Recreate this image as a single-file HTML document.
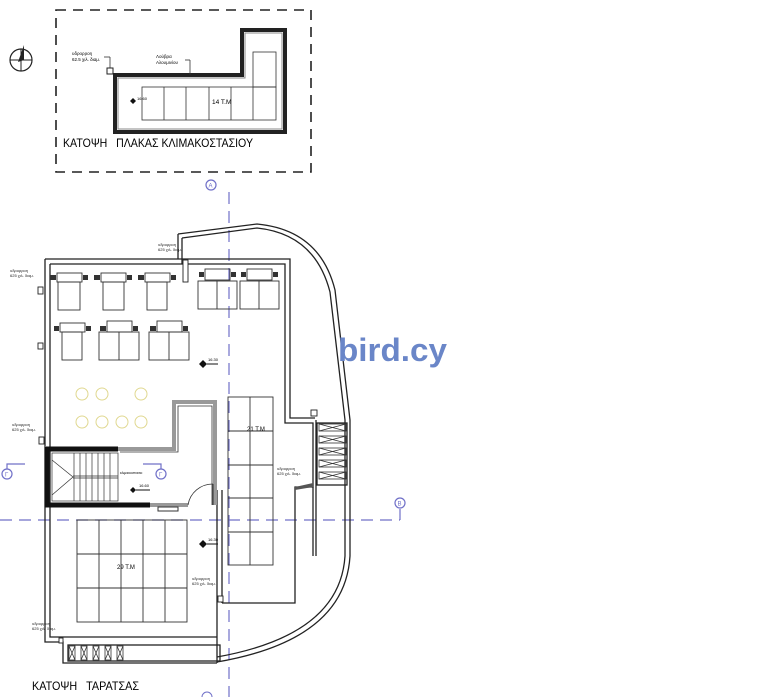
<!DOCTYPE html>
<html><head><meta charset="utf-8"><style>
html,body{margin:0;padding:0;background:#fff;}
svg{display:block;}
text{font-family:"Liberation Sans",sans-serif;}
</style></head><body>
<svg width="780" height="697" viewBox="0 0 780 697" xmlns="http://www.w3.org/2000/svg">
<rect x="56" y="10" width="255" height="162" fill="none" stroke="#222" stroke-width="1.6" stroke-dasharray="10,7"/>
<circle cx="21" cy="60" r="11" fill="none" stroke="#222" stroke-width="1.2"/>
<line x1="10" y1="60" x2="32" y2="60" stroke="#222"/><line x1="21" y1="49" x2="21" y2="71" stroke="#222"/>
<polygon points="24,45 18,62 24,60" fill="#222"/>
<path d="M115,75 H242 V30 H285 V132 H115 Z" fill="none" stroke="#222" stroke-width="4"/>
<path d="M118,78 H245 V33 H282 V129 H118 Z" fill="none" stroke="#888" stroke-width="1"/>
<g fill="none" stroke="#333" stroke-width="0.8">
<rect x="142" y="87" width="134" height="33"/>
<line x1="164" y1="87" x2="164" y2="120"/><line x1="186" y1="87" x2="186" y2="120"/><line x1="209" y1="87" x2="209" y2="120"/><line x1="231" y1="87" x2="231" y2="120"/><line x1="253" y1="87" x2="253" y2="120"/>
<rect x="253" y="52" width="23" height="35"/>
<line x1="104" y1="57" x2="110" y2="57"/><line x1="110" y1="57" x2="110" y2="70"/>
<line x1="185" y1="60" x2="190" y2="60"/><line x1="190" y1="60" x2="190" y2="75"/>
</g>
<rect x="107" y="68" width="6" height="6" fill="#fff" stroke="#222"/>
<text x="72" y="55" font-size="4.5">υδρορροη</text><text x="72" y="61" font-size="4.5">62.5 χιλ. διαμ.</text>
<text x="156" y="58" font-size="4.5">Λούβρα</text><text x="156" y="64" font-size="4.5">Αλουμινίου</text>
<polygon points="130,101 133,98 136,101 133,104" fill="#111"/><text x="137" y="100" font-size="4">16.60</text>
<text x="212" y="104" font-size="6.5">14 T.M</text>
<text x="63" y="147" font-size="12" textLength="190" lengthAdjust="spacingAndGlyphs">ΚΑΤΟΨΗ &#160;&#160;ΠΛΑΚΑΣ ΚΛΙΜΑΚΟΣΤΑΣΙΟΥ</text>

<g stroke="#7070c8" stroke-width="1.2" fill="none">
<line x1="229" y1="192" x2="229" y2="697" stroke-dasharray="12,7"/>
<line x1="0" y1="520" x2="400" y2="520" stroke-dasharray="12,7"/>
<line x1="400" y1="520" x2="400" y2="509"/>
<circle cx="211" cy="185" r="5"/><circle cx="400" cy="503" r="5"/>
<circle cx="7" cy="474" r="5"/><circle cx="161" cy="474" r="5"/>
<path d="M7,469 V464 H25"/><path d="M161,469 V464 H143"/>
</g>
<g font-size="6" fill="#7070c8"><text x="208.5" y="187.5">A</text><text x="397.5" y="505.5">B</text><text x="5" y="476.5">Γ</text><text x="159" y="476.5">Γ</text></g>

<g fill="none" stroke="#222" stroke-width="1.3">
<path d="M45,259 H290 V418 H315"/>
<path d="M50,264 H285 V423 H313 V487 H295 V603 H222"/>
<path d="M45,259 V642 H63 V663 H217"/>
<path d="M50,264 V637 H217"/>
<path d="M178,234 L257,224 Q320,230 335,290 L350,420 V556 Q345,640 217,662"/>
<path d="M182,238 L257,228 Q315,234 330,292 L345,420 V556 Q340,635 217,657"/>
<path d="M182,238 V264"/><path d="M178,234 V259"/>
<path d="M217,490 V663"/><path d="M222,490 V603"/>
<path d="M316,420 V556"/><path d="M313,487 V556"/>
<rect x="317" y="423" width="30" height="62"/>
<rect x="68" y="645" width="152" height="16"/>
</g>
<g fill="none" stroke="#333" stroke-width="0.8">
<rect x="319" y="424" width="27" height="7"/><rect x="319" y="436" width="27" height="7"/><rect x="319" y="448" width="27" height="7"/><rect x="319" y="460" width="27" height="7"/><rect x="319" y="472" width="27" height="7"/>
<path d="M319,424 L346,431 M319,431 L346,424 M319,436 L346,443 M319,443 L346,436 M319,448 L346,455 M319,455 L346,448 M319,460 L346,467 M319,467 L346,460 M319,472 L346,479 M319,479 L346,472"/>
<rect x="69" y="646" width="6" height="14"/><rect x="81" y="646" width="6" height="14"/><rect x="93" y="646" width="6" height="14"/><rect x="105" y="646" width="6" height="14"/><rect x="117" y="646" width="6" height="14"/>
<path d="M69,646 L75,660 M75,646 L69,660 M81,646 L87,660 M87,646 L81,660 M93,646 L99,660 M99,646 L93,660 M105,646 L111,660 M111,646 L105,660 M117,646 L123,660 M123,646 L117,660"/>
</g>

<path d="M118,449 H174 V402 H215 V505" fill="none" stroke="#999" stroke-width="4"/>
<path d="M120,452 H178 V406 H212 V505" fill="none" stroke="#333" stroke-width="0.8"/>
<path d="M46,449 H118" stroke="#111" stroke-width="5"/>
<path d="M47,447 V505 H150" fill="none" stroke="#111" stroke-width="5"/>
<path d="M150,505 H188" stroke="#999" stroke-width="4"/>
<path d="M213,505 V484" stroke="#333"/><path d="M188,505 A25,25 0 0 1 213,484" fill="none" stroke="#333" stroke-width="0.8"/>
<g stroke="#333" stroke-width="0.7" fill="none">
<rect x="52" y="453" width="66" height="48"/>
<line x1="73" y1="476" x2="118" y2="476"/><line x1="73" y1="478" x2="118" y2="478"/>
<line x1="74" y1="453" x2="74" y2="501"/><line x1="80" y1="453" x2="80" y2="501"/><line x1="86" y1="453" x2="86" y2="501"/><line x1="92" y1="453" x2="92" y2="501"/><line x1="98" y1="453" x2="98" y2="501"/><line x1="104" y1="453" x2="104" y2="501"/><line x1="110" y1="453" x2="110" y2="501"/>
<path d="M52,460 L73,477 L52,495"/>
</g>
<text x="120" y="474" font-size="3.5">κλιμακοστασιο</text>
<polygon points="130,490 133,487 136,490 133,493" fill="#111"/><line x1="136" y1="490" x2="150" y2="490" stroke="#111"/><text x="139" y="487" font-size="4">16.60</text>
<rect x="158" y="507" width="20" height="4" fill="none" stroke="#333"/>

<g fill="none" stroke="#333" stroke-width="0.9">
<rect x="58" y="282" width="22" height="28"/><rect x="103" y="282" width="21" height="28"/><rect x="147" y="282" width="20" height="28"/>
<rect x="57" y="273" width="25" height="9"/><rect x="101" y="273" width="25" height="9"/><rect x="145" y="273" width="25" height="9"/>
<rect x="198" y="281" width="39" height="28"/><line x1="217" y1="281" x2="217" y2="309"/>
<rect x="240" y="281" width="39" height="28"/><line x1="259" y1="281" x2="259" y2="309"/>
<rect x="205" y="269" width="25" height="11"/><rect x="247" y="269" width="25" height="11"/>
<rect x="62" y="332" width="20" height="28"/>
<rect x="99" y="332" width="40" height="28"/><line x1="119" y1="332" x2="119" y2="360"/>
<rect x="149" y="332" width="40" height="28"/><line x1="169" y1="332" x2="169" y2="360"/>
<rect x="60" y="323" width="25" height="9"/><rect x="107" y="321" width="25" height="11"/><rect x="157" y="321" width="25" height="11"/>
</g>
<g fill="#333">
<rect x="50" y="275" width="6" height="5"/><rect x="83" y="275" width="5" height="5"/><rect x="94" y="275" width="6" height="5"/><rect x="127" y="275" width="5" height="5"/><rect x="138" y="275" width="6" height="5"/><rect x="171" y="275" width="5" height="5"/>
<rect x="199" y="272" width="5" height="5"/><rect x="231" y="272" width="5" height="5"/><rect x="241" y="272" width="5" height="5"/><rect x="273" y="272" width="5" height="5"/>
<rect x="54" y="326" width="5" height="5"/><rect x="86" y="326" width="5" height="5"/><rect x="100" y="326" width="6" height="5"/><rect x="133" y="326" width="5" height="5"/><rect x="150" y="326" width="6" height="5"/><rect x="183" y="326" width="5" height="5"/>
</g>
<g fill="none" stroke="#e0d890" stroke-width="1">
<circle cx="82" cy="394" r="6"/><circle cx="102" cy="394" r="6"/><circle cx="141" cy="394" r="6"/>
<circle cx="82" cy="422" r="6"/><circle cx="102" cy="422" r="6"/><circle cx="122" cy="422" r="6"/><circle cx="141" cy="422" r="6"/>
</g>
<g fill="none" stroke="#333" stroke-width="0.9">
<rect x="77" y="520" width="110" height="102"/>
<line x1="99" y1="520" x2="99" y2="622"/><line x1="121" y1="520" x2="121" y2="622"/><line x1="143" y1="520" x2="143" y2="622"/><line x1="165" y1="520" x2="165" y2="622"/>
<line x1="77" y1="554" x2="187" y2="554"/><line x1="77" y1="588" x2="187" y2="588"/>
<rect x="228" y="397" width="45" height="168"/><line x1="250" y1="397" x2="250" y2="565"/>
<line x1="228" y1="431" x2="273" y2="431"/><line x1="228" y1="465" x2="273" y2="465"/><line x1="228" y1="498" x2="273" y2="498"/><line x1="228" y1="532" x2="273" y2="532"/>
</g>
<text x="117" y="569" font-size="6">29 T.M</text>
<text x="247" y="431" font-size="6">21 T.M</text>
<g fill="#111"><polygon points="199,364 203,360 207,364 203,368"/><polygon points="199,544 203,540 207,544 203,548"/></g>
<line x1="207" y1="364" x2="218" y2="364" stroke="#111"/><line x1="207" y1="544" x2="218" y2="544" stroke="#111"/>
<text x="208" y="361" font-size="4">16.30</text><text x="208" y="541" font-size="4">16.30</text>
<g fill="#fff" stroke="#222" stroke-width="0.9">
<rect x="38" y="287" width="5" height="7"/><rect x="38" y="343" width="5" height="6"/><rect x="39" y="437" width="5" height="7"/>
<rect x="311" y="410" width="6" height="6"/><rect x="218" y="596" width="5" height="6"/><rect x="59" y="638" width="4" height="5"/>
<rect x="183" y="260" width="5" height="22"/>
</g>
<polygon points="295,490 313,487 313,483 295,487" fill="#555"/>
<g font-size="4" fill="#222">
<text x="10" y="272">υδρορροη</text><text x="10" y="277">625 χιλ. διαμ.</text>
<text x="158" y="246">υδρορροη</text><text x="158" y="251">625 χιλ. διαμ.</text>
<text x="12" y="426">υδρορροη</text><text x="12" y="431">625 χιλ. διαμ.</text>
<text x="277" y="470">υδρορροη</text><text x="277" y="475">625 χιλ. διαμ.</text>
<text x="192" y="580">υδρορροη</text><text x="192" y="585">625 χιλ. διαμ.</text>
<text x="32" y="625">υδρορροη</text><text x="32" y="630">625 χιλ. διαμ.</text>
</g>
<text x="338" y="361" font-size="32" font-weight="bold" fill="#6a86c8" textLength="109" lengthAdjust="spacingAndGlyphs">bird.cy</text>
<text x="32" y="690" font-size="12" textLength="107" lengthAdjust="spacingAndGlyphs">ΚΑΤΟΨΗ &#160;&#160;ΤΑΡΑΤΣΑΣ</text>
<circle cx="207" cy="697" r="5" fill="none" stroke="#7070c8"/>
</svg>
</body></html>
